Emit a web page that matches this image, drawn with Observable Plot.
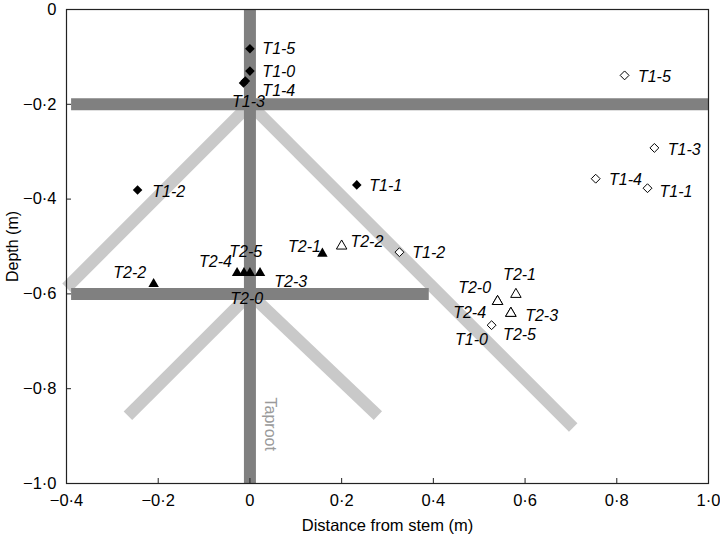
<!DOCTYPE html>
<html><head><meta charset="utf-8">
<script src="https://cdn.jsdelivr.net/npm/d3@7"></script>
<script src="https://cdn.jsdelivr.net/npm/@observablehq/plot@0.6"></script>
<style>
body{margin:0;background:#fff}
svg{font-family:"Liberation Sans",Arial,Helvetica,sans-serif}
</style>
</head><body><div id="chart"></div>
<script>
// Tick values
const xTicks = [-0.4, -0.2, 0, 0.2, 0.4, 0.6, 0.8, 1.0];
const yTicks = [0, -0.2, -0.4, -0.6, -0.8, -1.0];

// Root schematic (data units)
const mainRoots = [
  {name: "taproot", x1: 0, y1: 0, x2: 0, y2: -1.0},
  {name: "lateral -0.2", x1: -0.39, y1: -0.2, x2: 1.0, y2: -0.2},
  {name: "lateral -0.6", x1: -0.39, y1: -0.6, x2: 0.39, y2: -0.6}
];
const obliqueRoots = [
  {x1: 0, y1: -0.2, x2: -0.4, y2: -0.587},
  {x1: 0, y1: -0.2, x2: 0.705, y2: -0.882},
  {x1: 0, y1: -0.6, x2: -0.266, y2: -0.857},
  {x1: 0, y1: -0.6, x2: 0.279, y2: -0.857}
];
const taprootLabel = [{text: "Taproot", x: 0.043, y: -0.875}];

// T1 filled diamonds
const t1FilledNames = ["T1-5", "T1-0", "T1-4", "T1-3", "T1-2", "T1-1"];
const t1FilledX = [0.0, 0.0, -0.01, -0.014, -0.245, 0.233];
const t1FilledY = [-0.083, -0.130, -0.151, -0.155, -0.381, -0.370];
const t1FilledLabelX = [0.063, 0.063, 0.063, -0.003, -0.177, 0.296];
const t1FilledLabelY = [-0.083, -0.132, -0.171, -0.195, -0.385, -0.372];

// T1 open diamonds
const t1OpenNames = ["T1-5", "T1-3", "T1-4", "T1-1", "T1-2", "T1-0"];
const t1OpenX = [0.817, 0.882, 0.754, 0.867, 0.326, 0.527];
const t1OpenY = [-0.139, -0.292, -0.357, -0.377, -0.512, -0.666];
const t1OpenLabelX = [0.882, 0.947, 0.819, 0.929, 0.390, 0.483];
const t1OpenLabelY = [-0.143, -0.297, -0.360, -0.385, -0.514, -0.698];

// T2 filled triangles
const t2FilledNames = ["T2-2", "T2-4", "T2-5", "T2-0", "T2-3", "T2-1"];
const t2FilledX = [-0.21, -0.028, -0.013, 0.0, 0.022, 0.158];
const t2FilledY = [-0.579, -0.556, -0.556, -0.556, -0.556, -0.515];
const t2FilledLabelX = [-0.262, -0.075, -0.009, -0.007, 0.089, 0.119];
const t2FilledLabelY = [-0.556, -0.533, -0.512, -0.611, -0.575, -0.501];

// T2 open triangles
const t2OpenNames = ["T2-2", "T2-0", "T2-4", "T2-1", "T2-3", "T2-5"];
const t2OpenX = [0.2, 0.54, 0.54, 0.58, 0.569, 0.569];
const t2OpenY = [-0.499, -0.616, -0.616, -0.601, -0.641, -0.641];
const t2OpenLabelX = [0.255, 0.49, 0.479, 0.588, 0.636, 0.588];
const t2OpenLabelY = [-0.491, -0.588, -0.639, -0.560, -0.647, -0.687];

function rows(names, xs, ys, lx, ly) {
  return names.map((n, i) => ({name: n, x: xs[i], y: ys[i], lx: lx[i], ly: ly[i]}));
}
const t1Filled = rows(t1FilledNames, t1FilledX, t1FilledY, t1FilledLabelX, t1FilledLabelY);
const t1Open = rows(t1OpenNames, t1OpenX, t1OpenY, t1OpenLabelX, t1OpenLabelY);
const t2Filled = rows(t2FilledNames, t2FilledX, t2FilledY, t2FilledLabelX, t2FilledLabelY);
const t2Open = rows(t2OpenNames, t2OpenX, t2OpenY, t2OpenLabelX, t2OpenLabelY);
const allLabels = [...t1Filled, ...t1Open, ...t2Filled, ...t2Open];

const fmt = d => d === 0 ? "0" : d.toFixed(1).replace(".", "\u00b7").replace("-", "\u2212");

const chart = Plot.plot({
  width: 720, height: 539,
  marginLeft: 66, marginRight: 12, marginTop: 9, marginBottom: 56,
  style: {fontSize: "16px", fontFamily: "Liberation Sans, Arial, sans-serif", background: "#fff"},
  x: {domain: [-0.4, 1.0]},
  y: {domain: [-1.0, 0]},
  marks: [
    Plot.link(obliqueRoots, {x1: "x1", y1: "y1", x2: "x2", y2: "y2", stroke: "#c9c9c9", strokeWidth: 12, strokeLinecap: "butt", clip: false}),
    Plot.link(mainRoots, {x1: "x1", y1: "y1", x2: "x2", y2: "y2", stroke: "#808080", strokeWidth: 12, strokeLinecap: "butt"}),
    Plot.text(taprootLabel, {x: "x", y: "y", text: "text", rotate: 90, fill: "#9a9a9a", fontSize: 16}),
    Plot.frame({stroke: "#222", strokeWidth: 1.2}),
    Plot.axisX({ticks: xTicks, tickFormat: fmt, tickSize: -5, tickPadding: 16, label: null, fontSize: 16.5, stroke: "#222"}),
    Plot.axisY({ticks: yTicks, tickFormat: fmt, tickSize: -5, tickPadding: 15, label: null, fontSize: 16.5, stroke: "#222"}),
    Plot.axisX({ticks: [], label: "Distance from stem (m)", labelAnchor: "center", labelOffset: 47, labelArrow: "none", fontSize: 16.5}),
    Plot.axisY({ticks: [], label: "Depth (m)", labelAnchor: "center", labelOffset: 60, labelArrow: "none", fontSize: 16}),
    Plot.dot(t1Filled, {x: "x", y: "y", symbol: "diamond2", r: 4.3, fill: "#000", stroke: "none"}),
    Plot.dot(t1Open, {x: "x", y: "y", symbol: "diamond2", r: 4, fill: "#fff", stroke: "#000", strokeWidth: 1}),
    Plot.dot(t2Filled, {x: "x", y: "y", symbol: "triangle2", r: 5, fill: "#000", stroke: "none"}),
    Plot.dot(t2Open, {x: "x", y: "y", symbol: "triangle2", r: 5, fill: "#fff", stroke: "#000", strokeWidth: 1}),
    Plot.text(allLabels, {x: "lx", y: "ly", text: "name", fontStyle: "italic", fontSize: 16,
      fontWeight: d => d.name.endsWith("-0") ? "bold" : "normal", fill: "#000"})
  ]
});
document.getElementById("chart").appendChild(chart);
</script>
</body></html>
